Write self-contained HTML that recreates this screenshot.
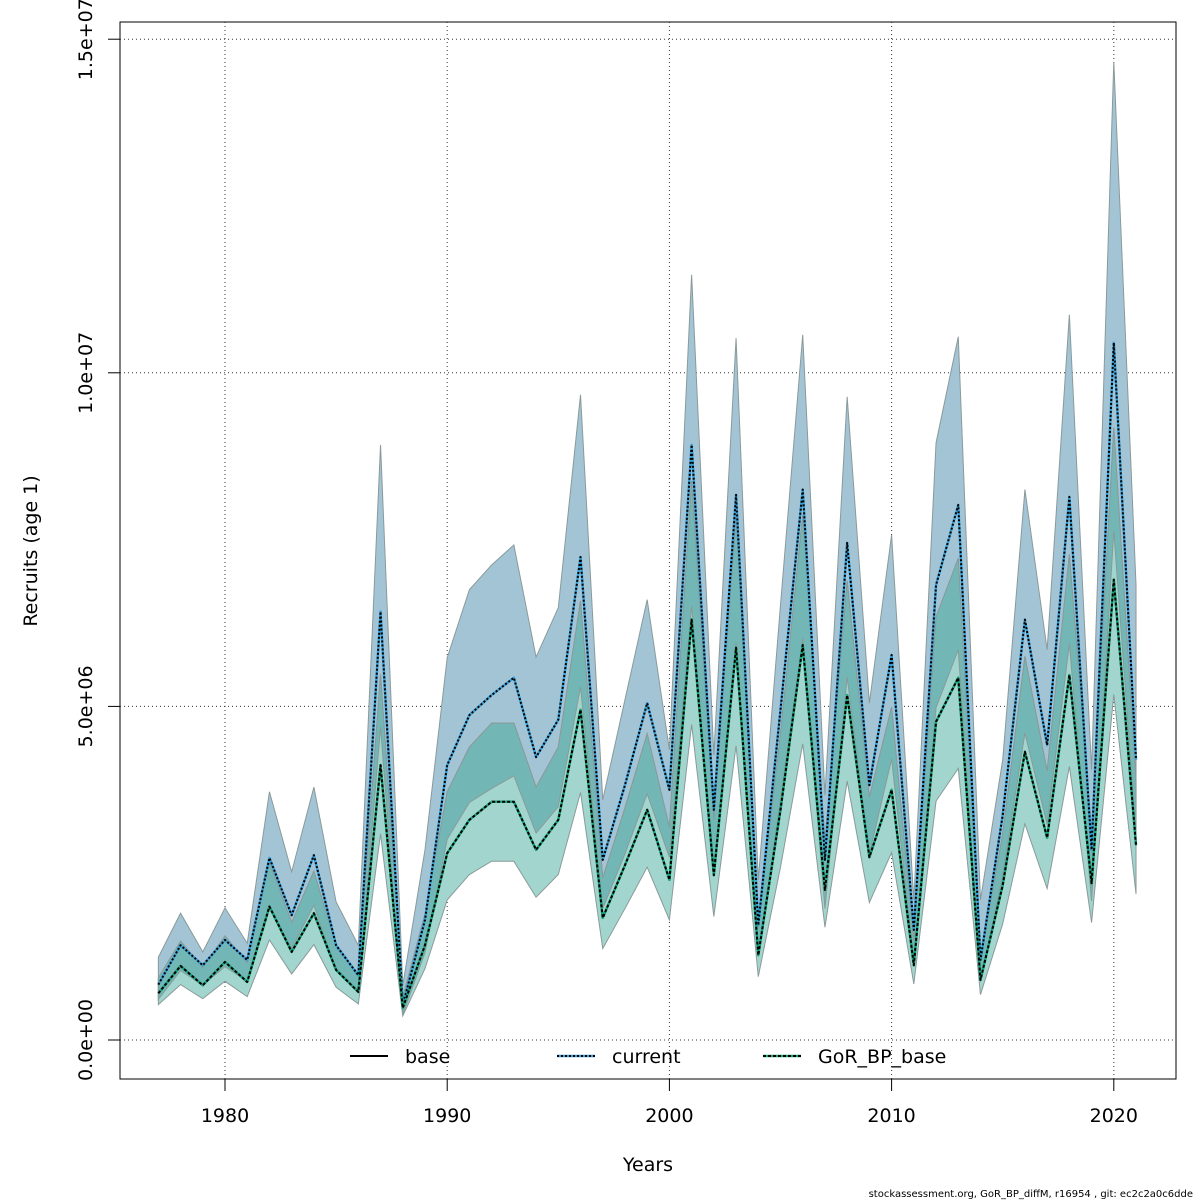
<!DOCTYPE html>
<html><head><meta charset="utf-8"><style>
body{margin:0;background:#fff;font-family:"Liberation Sans","DejaVu Sans",sans-serif}
svg{display:block}
</style></head><body>
<svg id="chart" width="1200" height="1200" font-family="DejaVu Sans, Liberation Sans, sans-serif">
<rect x="120" y="22" width="1056" height="1057" fill="none" stroke="#000" stroke-width="1"/>
<g id="grid"></g>
<g id="bands"></g>
<g id="lines"></g>
<g id="axes"></g>
<text x="37" y="551" transform="rotate(-90 37 551)" text-anchor="middle" font-size="19">Recruits (age 1)</text>
<text x="648" y="1171" text-anchor="middle" font-size="19">Years</text>
<g>
<g><line x1="350" y1="1056" x2="388" y2="1056" stroke="#000" stroke-width="2"/><text x="405" y="1063" font-size="19">base</text></g>
<g><line x1="557" y1="1056" x2="595" y2="1056" stroke="#3aa0d8" stroke-width="2.5"/><line x1="557" y1="1056" x2="595" y2="1056" stroke="#000" stroke-width="2" stroke-dasharray="2,2"/><text x="612" y="1063" font-size="19">current</text></g>
<g><line x1="763" y1="1056" x2="801" y2="1056" stroke="#1aa57d" stroke-width="2.5"/><line x1="763" y1="1056" x2="801" y2="1056" stroke="#000" stroke-width="2" stroke-dasharray="3,2"/><text x="818" y="1063" font-size="19">GoR_BP_base</text></g>
</g>
<text x="1193" y="1197" text-anchor="end" font-size="10">stockassessment.org, GoR_BP_diffM, r16954 , git: ec2c2a0c6dde</text>
</svg>
<script>
const years=[];for(let y=1977;y<=2021;y++)years.push(y);
const baseVals=[0.7,1.11,0.82,1.17,0.87,2.0,1.32,1.9,1.05,0.72,4.12,0.48,1.42,2.8,3.3,3.57,3.57,2.85,3.3,4.95,1.83,2.62,3.45,2.4,6.3,2.47,5.88,1.27,3.45,5.92,2.25,5.17,2.74,3.75,1.12,4.77,5.43,0.9,2.32,4.32,3.03,5.47,2.35,6.9,2.92];
const baseUp=[0.93,1.48,1.09,1.56,1.16,2.66,1.76,2.53,1.40,0.96,5.48,0.64,1.89,3.72,4.39,4.75,4.75,3.79,4.39,6.58,2.43,3.48,4.59,3.19,8.38,3.29,7.82,1.69,4.59,7.87,2.99,6.88,3.64,4.99,1.49,6.34,7.22,1.20,3.09,5.75,4.03,7.28,3.13,9.18,3.88];
const baseLow=[0.53,0.83,0.62,0.88,0.65,1.5,0.99,1.43,0.79,0.54,3.09,0.36,1.07,2.1,2.48,2.68,2.68,2.14,2.48,3.71,1.37,1.97,2.59,1.8,4.73,1.85,4.41,0.95,2.59,4.44,1.69,3.88,2.06,2.81,0.84,3.58,4.07,0.68,1.74,3.24,2.27,4.10,1.76,5.18,2.19];
const curVals=[0.83,1.42,1.12,1.5,1.2,2.73,1.87,2.77,1.42,0.97,6.42,0.52,1.8,4.12,4.87,5.17,5.43,4.24,4.8,7.24,2.7,3.82,5.05,3.75,8.92,3.45,8.17,1.72,4.95,8.25,2.7,7.45,3.82,5.77,1.65,6.82,8.02,1.2,3.37,6.3,4.42,8.14,2.85,10.45,4.2];
const curUp=[1.24,1.9,1.32,1.98,1.45,3.72,2.52,3.79,2.07,1.42,8.92,0.82,2.85,5.73,6.75,7.12,7.42,5.74,6.48,9.67,3.6,5.1,6.6,4.35,11.47,4.27,10.52,2.4,6.52,10.57,3.67,9.64,5.05,7.57,2.1,8.95,10.54,2.1,4.2,8.25,5.85,10.87,4.05,14.66,6.82];
const curLow=[0.61,1.04,0.82,1.10,0.88,1.99,1.37,2.02,1.04,0.71,4.69,0.38,1.31,3.01,3.56,3.77,3.96,3.10,3.50,5.29,1.97,2.79,3.69,2.74,6.51,2.52,5.96,1.26,3.61,6.02,1.97,5.44,2.79,4.21,1.20,4.98,5.85,0.88,2.46,4.60,3.23,5.94,2.08,7.63,3.07];
const xTicks=[1980,1990,2000,2010,2020];
const yTicks=[0,5,10,15];
const yTickLabels=["0.0e+00","5.0e+06","1.0e+07","1.5e+07"];
const NS="http://www.w3.org/2000/svg";
const X=y=>225+(y-1980)*22.22;
const Y=v=>1040-v*66.72;
function mk(tag,attrs,parent){const e=document.createElementNS(NS,tag);for(const k in attrs)e.setAttribute(k,attrs[k]);parent.appendChild(e);return e;}
const grid=document.getElementById('grid'),bands=document.getElementById('bands'),lines=document.getElementById('lines'),axes=document.getElementById('axes');
xTicks.forEach(t=>{
 const g=mk('line',{x1:X(t),x2:X(t),y1:22,y2:1079,stroke:'#333','stroke-width':1,'stroke-dasharray':'1,3'},grid);
 
 
 const tk=mk('line',{x1:X(t),x2:X(t),y1:1079,y2:1091,stroke:'#000'},axes);
 
 
 const tx=mk('text',{x:X(t),y:1122,'text-anchor':'middle','font-size':19},axes);tx.textContent=t;
 
 
});
yTicks.forEach((t,i)=>{
 const g=mk('line',{x1:120,x2:1176,y1:Y(t),y2:Y(t),stroke:'#333','stroke-width':1,'stroke-dasharray':'1,3'},grid);
 
 
 const tk=mk('line',{x1:108,x2:120,y1:Y(t),y2:Y(t),stroke:'#000'},axes);
 
 
 const tx=mk('text',{x:92,y:Y(t),'text-anchor':'middle','font-size':19,transform:`rotate(-90 92 ${Y(t)})`},axes);tx.textContent=yTickLabels[i];
 
 
});
function band(up,low,fill,name){
 let d='M'+years.map((y,i)=>X(y)+','+Y(up[i])).join('L');
 d+='L'+years.slice().reverse().map((y,j)=>{const i=years.length-1-j;return X(y)+','+Y(low[i]);}).join('L')+'Z';
 const p=mk('path',{d,fill,stroke:'#8a9a9a','stroke-width':1},bands);
 
 
}
band(curUp,curLow,'#a3c4d5','current-ci-band');
band(baseUp,baseLow,'#a1d5cd','base-ci-band');
const ovUp=curUp.map((v,i)=>Math.min(v,baseUp[i])),ovLow=curLow.map((v,i)=>Math.max(v,baseLow[i]));
band(ovUp,ovLow,'#72b7b5','overlap-ci-band');
function line(vals,stroke,w,dash,name){
 const a={points:years.map((y,i)=>X(y)+','+Y(vals[i])).join(' '),fill:'none',stroke,'stroke-width':w,'stroke-linejoin':'round'};
 if(dash)a['stroke-dasharray']=dash;
 const p=mk('polyline',a,lines);
 
 
}
line(baseVals,'#000',2,null,'base-line');
line(curVals,'#3aa0d8',2.5,null,'current-line-under');
line(curVals,'#000',2,'2,2','current-line');
line(baseVals,'#1aa57d',2.5,null,'gor-bp-base-line-under');
line(baseVals,'#000',2,'3,2','gor-bp-base-line');
</script>
</body></html>
